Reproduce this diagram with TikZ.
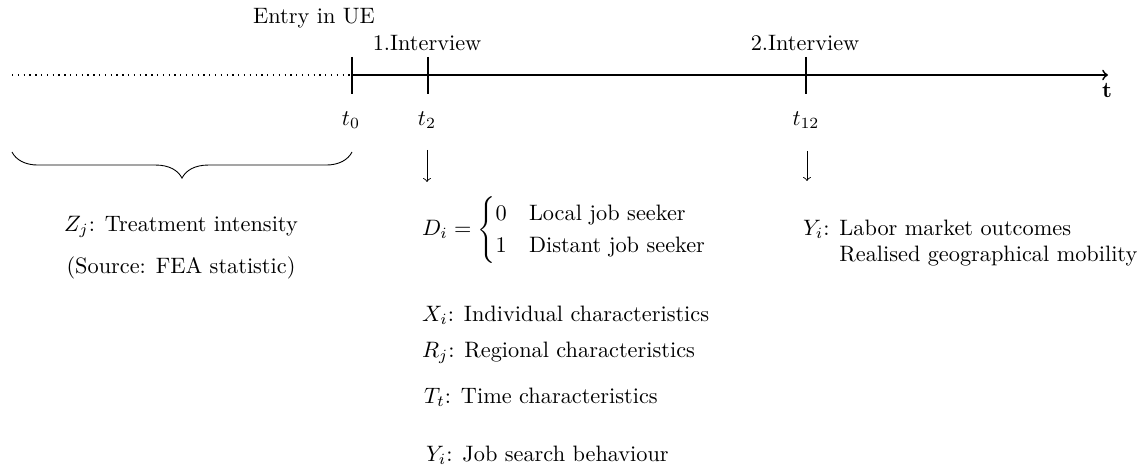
\documentclass[tikz,border=0pt]{standalone}
\usepackage{amsmath}
\usetikzlibrary{decorations.pathreplacing}
\begin{document}
\begin{tikzpicture}[x=0.4484pt,y=-0.4484pt,
  lbl/.style={inner sep=0pt, outer sep=0pt},
  lftlbl/.style={lbl, anchor=west},
  axisline/.style={thick},
  dotline/.style={semithick, dotted},
  tickline/.style={thick},
  downarrow/.style={->, thin},
  bracepath/.style={thin, decorate, decoration={brace, mirror, amplitude=11.7pt}}]
\useasboundingbox (0,0) rectangle (1147,469);
% timeline
\coordinate (dotstart) at (12,75);
\coordinate (t0) at (352,75);
\coordinate (tend) at (1108,75);
\draw[dotline] (dotstart) -- (t0);
\draw[axisline,->] (t0) -- (tend);
% ticks
\coordinate (t0top) at (352,57);
\coordinate (t0bot) at (352,94);
\coordinate (t2top) at (428,57);
\coordinate (t2bot) at (428,94);
\coordinate (t12top) at (806,57);
\coordinate (t12bot) at (806,94);
\draw[tickline] (t0top) -- (t0bot);
\draw[tickline] (t2top) -- (t2bot);
\draw[tickline] (t12top) -- (t12bot);
% labels above
\node[lbl] (entry) at (314,18) {Entry in UE};
\node[lbl] (int1) at (427,43) {1.Interview};
\node[lbl] (int2) at (805,43) {2.Interview};
\node[lbl] (tlab) at (1107,90) {$\mathbf{t}$};
% labels below
\node[lbl] (lt0) at (351,120) {$t_0$};
\node[lbl] (lt2) at (427,120) {$t_2$};
\node[lbl] (lt12) at (806,120) {$t_{12}$};
% down arrows
\coordinate (a2s) at (427,150);
\coordinate (a2e) at (427,182);
\coordinate (a12s) at (807,151);
\coordinate (a12e) at (807,181);
\draw[downarrow] (a2s) -- (a2e);
\draw[downarrow] (a12s) -- (a12e);
% brace
\coordinate (b1) at (12,152);
\coordinate (b2) at (352,152);
\draw[bracepath] (b1) -- (b2);
\node[lbl] (zj) at (181,227) {$Z_j$: Treatment intensity};
\node[lbl] (src) at (181,268) {(Source: FEA statistic)};
% D_i
\node[lftlbl] (di) at (422,230) {$D_i = \begin{cases} 0 & \text{Local job seeker}\\ 1 & \text{Distant job seeker}\end{cases}$};
\node[lftlbl] (xi) at (422,315) {$X_i$: Individual characteristics};
\node[lftlbl] (rj) at (422,353) {$R_j$: Regional characteristics};
\node[lftlbl] (tt) at (424,397) {$T_t$: Time characteristics};
\node[lftlbl] (yi) at (426,455) {$Y_i$: Job search behaviour};
% outcomes
\node[lftlbl, align=left] (yout) at (803,243) {$Y_i$: Labor market outcomes\\\phantom{$Y_i$: }Realised geographical mobility};
\end{tikzpicture}
\end{document}
